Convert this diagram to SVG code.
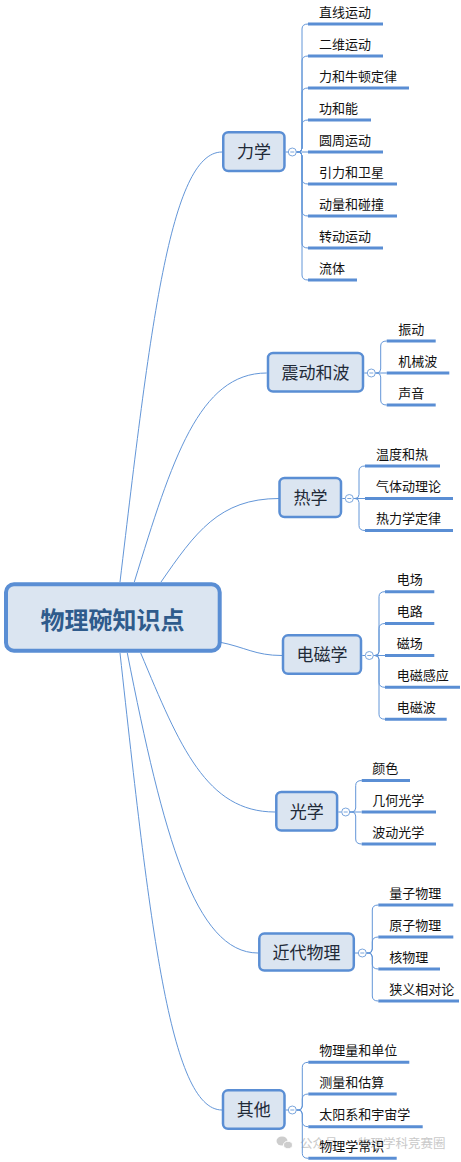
<svg xmlns="http://www.w3.org/2000/svg" width="461" height="1162" viewBox="0 0 461 1162">
<style>
.bg{fill:#ffffff}
.conn{fill:none;stroke:#6396d8;stroke-width:1}
.bar{fill:none;stroke:#5a8ed4;stroke-width:3}
.main rect{fill:#dbe5f1;stroke:#5a8ed4;stroke-width:2.5}
.main text{font-family:"Noto Sans CJK SC","Noto Sans",sans-serif;font-size:17px;fill:#1f2a38;text-anchor:middle}
.sub{font-family:"Noto Sans CJK SC","Noto Sans",sans-serif;font-size:13px;fill:#111111}
.col{fill:#ffffff;stroke:#7ba6dd;stroke-width:1}
.minus{stroke:#7ba6dd;stroke-width:1}
.wm{font-family:"Noto Sans CJK SC","Noto Sans",sans-serif;font-size:12.5px;fill:#c4c4c4}
</style>
<rect class="bg" x="0" y="0" width="461" height="1162"/>

<g id="watermark" opacity="0.9">
  <ellipse cx="282" cy="1141" rx="5.5" ry="4.5" fill="#c8c8c8"/>
  <ellipse cx="288" cy="1145" rx="4.5" ry="3.8" fill="#c8c8c8" stroke="#fff" stroke-width="1"/>
  <text class="wm" x="300" y="1148">公众号</text>
  <text class="wm" x="343" y="1148">·</text>
  <text class="wm" x="358" y="1148">物理学科竞赛圈</text>
</g>

<g id="connectors">
  <path class="conn" d="M120 582C150 330 170 152 222 152"/>
  <path class="conn" d="M134.3 582C172 459.5 199 373 266.7 373"/>
  <path class="conn" d="M161 582C195 533 219 498.5 279 498.5"/>
  <path class="conn" d="M219 642C245 647 255 655.5 282 655.5"/>
  <path class="conn" d="M140.7 653C179.6 746 206.4 812 275 812"/>
  <path class="conn" d="M127.3 653C163 835 195 953 258 953"/>
  <path class="conn" d="M120 653C149.5 920.7 169.8 1110 222 1110"/>

  <!-- 力学 -->
  <path class="conn" d="M285.7 152H288.3"/>
  <path class="conn" d="M296.3 152H298Q302 152 302 148V29Q302 24 308 24"/>
  <path class="conn" d="M296.3 152H298Q302 152 302 148V61Q302 56 308 56"/>
  <path class="conn" d="M296.3 152H298Q302 152 302 148V93Q302 88 308 88"/>
  <path class="conn" d="M296.3 152H298Q302 152 302 148V125Q302 120 308 120"/>
  <path class="conn" d="M296.3 152H308"/>
  <path class="conn" d="M296.3 152H298Q302 152 302 156V179Q302 184 308 184"/>
  <path class="conn" d="M296.3 152H298Q302 152 302 156V211Q302 216 308 216"/>
  <path class="conn" d="M296.3 152H298Q302 152 302 156V243Q302 248 308 248"/>
  <path class="conn" d="M296.3 152H298Q302 152 302 156V275Q302 280 308 280"/>

  <!-- 震动和波 -->
  <path class="conn" d="M364.3 373H367.3"/>
  <path class="conn" d="M375.3 373H376.7Q380.7 373 380.7 369V346Q380.7 341 386.7 341"/>
  <path class="conn" d="M375.3 373H386.7"/>
  <path class="conn" d="M375.3 373H376.7Q380.7 373 380.7 377V400Q380.7 405 386.7 405"/>

  <!-- 热学 -->
  <path class="conn" d="M342.3 498.5H345.3"/>
  <path class="conn" d="M353.3 498.5H355Q359 498.5 359 494.5V471Q359 466 365 466"/>
  <path class="conn" d="M353.3 498.5H365"/>
  <path class="conn" d="M353.3 498.5H355Q359 498.5 359 502.5V525.5Q359 530.5 365 530.5"/>

  <!-- 电磁学 -->
  <path class="conn" d="M362.3 655.5H365.3"/>
  <path class="conn" d="M373.3 655.5H375Q379 655.5 379 651.5V596.7Q379 591.7 385 591.7"/>
  <path class="conn" d="M373.3 655.5H375Q379 655.5 379 651.5V628.5Q379 623.5 385 623.5"/>
  <path class="conn" d="M373.3 655.5H385"/>
  <path class="conn" d="M373.3 655.5H375Q379 655.5 379 659.5V682.3Q379 687.3 385 687.3"/>
  <path class="conn" d="M373.3 655.5H375Q379 655.5 379 659.5V714.2Q379 719.2 385 719.2"/>

  <!-- 光学 -->
  <path class="conn" d="M338.3 812H341.7"/>
  <path class="conn" d="M349.7 812H351.7Q355.7 812 355.7 808V785.5Q355.7 780.5 361.7 780.5"/>
  <path class="conn" d="M349.7 812H361.7"/>
  <path class="conn" d="M349.7 812H351.7Q355.7 812 355.7 816V839Q355.7 844 361.7 844"/>

  <!-- 近代物理 -->
  <path class="conn" d="M355 953H358.3"/>
  <path class="conn" d="M366.3 953H368.3Q372.3 953 372.3 949V910Q372.3 905 378.3 905"/>
  <path class="conn" d="M366.3 953H368.3Q372.3 953 372.3 949V942Q372.3 937 378.3 937"/>
  <path class="conn" d="M366.3 953H368.3Q372.3 953 372.3 957V964Q372.3 969 378.3 969"/>
  <path class="conn" d="M366.3 953H368.3Q372.3 953 372.3 957V996Q372.3 1001 378.3 1001"/>

  <!-- 其他 -->
  <path class="conn" d="M285.7 1110H288.3"/>
  <path class="conn" d="M296.3 1110H298.3Q302.3 1110 302.3 1106V1067.3Q302.3 1062.3 308.3 1062.3"/>
  <path class="conn" d="M296.3 1110H298.3Q302.3 1110 302.3 1106V1099Q302.3 1094 308.3 1094"/>
  <path class="conn" d="M296.3 1110H298.3Q302.3 1110 302.3 1114V1121.7Q302.3 1126.7 308.3 1126.7"/>
  <path class="conn" d="M296.3 1110H298.3Q302.3 1110 302.3 1114V1153.3Q302.3 1158.3 308.3 1158.3"/>

  <!-- collapse circles -->
  <g>
    <circle class="col" cx="292.3" cy="152" r="4"/><path class="minus" d="M290.3 152H294.3"/>
    <circle class="col" cx="371.3" cy="373" r="4"/><path class="minus" d="M369.3 373H373.3"/>
    <circle class="col" cx="349.3" cy="498.5" r="4"/><path class="minus" d="M347.3 498.5H351.3"/>
    <circle class="col" cx="369.3" cy="655.5" r="4"/><path class="minus" d="M367.3 655.5H371.3"/>
    <circle class="col" cx="345.7" cy="812" r="4"/><path class="minus" d="M343.7 812H347.7"/>
    <circle class="col" cx="362.3" cy="953" r="4"/><path class="minus" d="M360.3 953H364.3"/>
    <circle class="col" cx="292.3" cy="1110" r="4"/><path class="minus" d="M290.3 1110H294.3"/>
  </g>
</g>

<g id="root">
  <rect x="6" y="584.3" width="213.7" height="66.4" rx="8" fill="#dbe5f1" stroke="#5a8ed4" stroke-width="4"/>
  <text x="112.5" y="629" font-family="'Noto Sans CJK SC','Noto Sans',sans-serif" font-size="24" font-weight="bold" fill="#2f5b8c" text-anchor="middle">物理碗知识点</text>
</g>

<g id="n-lixue" class="main"><rect x="223.25" y="132.25" width="61.2" height="38.8" rx="5"/><text x="254" y="158">力学</text></g>
<g id="n-zhendong" class="main"><rect x="268" y="353" width="95" height="38.5" rx="5"/><text x="315.5" y="378.5">震动和波</text></g>
<g id="n-rexue" class="main"><rect x="279.5" y="478" width="61.5" height="39" rx="5"/><text x="310.5" y="504">热学</text></g>
<g id="n-dianci" class="main"><rect x="283" y="635.3" width="78" height="38.5" rx="5"/><text x="322" y="661">电磁学</text></g>
<g id="n-guangxue" class="main"><rect x="276.3" y="792" width="60.8" height="38.5" rx="5"/><text x="306.7" y="817.5">光学</text></g>
<g id="n-jindai" class="main"><rect x="259.3" y="933.6" width="94.5" height="36.9" rx="5"/><text x="306.5" y="958.5">近代物理</text></g>
<g id="n-qita" class="main"><rect x="223" y="1090.3" width="61.5" height="38.5" rx="5"/><text x="253.7" y="1116">其他</text></g>

<g id="subs-lixue">
  <g id="s1"><path class="bar" d="M308 24H383"/><text class="sub" x="319" y="16.5">直线运动</text></g>
  <g id="s2"><path class="bar" d="M308 56H383"/><text class="sub" x="319" y="48.5">二维运动</text></g>
  <g id="s3"><path class="bar" d="M308 88H409"/><text class="sub" x="319" y="80.5">力和牛顿定律</text></g>
  <g id="s4"><path class="bar" d="M308 120H371"/><text class="sub" x="319" y="112.5">功和能</text></g>
  <g id="s5"><path class="bar" d="M308 152H383"/><text class="sub" x="319" y="144.5">圆周运动</text></g>
  <g id="s6"><path class="bar" d="M308 184H397"/><text class="sub" x="319" y="176.5">引力和卫星</text></g>
  <g id="s7"><path class="bar" d="M308 216H397"/><text class="sub" x="319" y="208.5">动量和碰撞</text></g>
  <g id="s8"><path class="bar" d="M308 248H383"/><text class="sub" x="319" y="240.5">转动运动</text></g>
  <g id="s9"><path class="bar" d="M308 280H357"/><text class="sub" x="319" y="272.5">流体</text></g>
</g>
<g id="subs-zhendong">
  <g id="s10"><path class="bar" d="M386.7 341H435.7"/><text class="sub" x="398.3" y="333.5">振动</text></g>
  <g id="s11"><path class="bar" d="M386.7 373H449.3"/><text class="sub" x="398.3" y="365.5">机械波</text></g>
  <g id="s12"><path class="bar" d="M386.7 405H435.7"/><text class="sub" x="398.3" y="397.5">声音</text></g>
</g>
<g id="subs-rexue">
  <g id="s13"><path class="bar" d="M365 466H440"/><text class="sub" x="376" y="458.5">温度和热</text></g>
  <g id="s14"><path class="bar" d="M365 498.5H453"/><text class="sub" x="376" y="491">气体动理论</text></g>
  <g id="s15"><path class="bar" d="M365 530.5H453"/><text class="sub" x="376" y="523">热力学定律</text></g>
</g>
<g id="subs-dianci">
  <g id="s16"><path class="bar" d="M385 591.7H434.3"/><text class="sub" x="396.7" y="584.2">电场</text></g>
  <g id="s17"><path class="bar" d="M385 623.5H434.3"/><text class="sub" x="396.7" y="616">电路</text></g>
  <g id="s18"><path class="bar" d="M385 655.5H434.3"/><text class="sub" x="396.7" y="648">磁场</text></g>
  <g id="s19"><path class="bar" d="M385 687.3H460"/><text class="sub" x="396.7" y="679.8">电磁感应</text></g>
  <g id="s20"><path class="bar" d="M385 719.2H446.7"/><text class="sub" x="396.7" y="711.7">电磁波</text></g>
</g>
<g id="subs-guangxue">
  <g id="s21"><path class="bar" d="M361.7 780.5H410"/><text class="sub" x="372.3" y="773">颜色</text></g>
  <g id="s22"><path class="bar" d="M361.7 812H436"/><text class="sub" x="372.3" y="804.5">几何光学</text></g>
  <g id="s23"><path class="bar" d="M361.7 844H436"/><text class="sub" x="372.3" y="836.5">波动光学</text></g>
</g>
<g id="subs-jindai">
  <g id="s24"><path class="bar" d="M378.3 905H453.3"/><text class="sub" x="389.3" y="897.5">量子物理</text></g>
  <g id="s25"><path class="bar" d="M378.3 937H453.3"/><text class="sub" x="389.3" y="929.5">原子物理</text></g>
  <g id="s26"><path class="bar" d="M378.3 969H440"/><text class="sub" x="389.3" y="961.5">核物理</text></g>
  <g id="s27"><path class="bar" d="M378.3 1001H459"/><text class="sub" x="389.3" y="993.5">狭义相对论</text></g>
</g>
<g id="subs-qita">
  <g id="s28"><path class="bar" d="M308.3 1062.3H409.3"/><text class="sub" x="319.3" y="1054.8">物理量和单位</text></g>
  <g id="s29"><path class="bar" d="M308.3 1094H396.7"/><text class="sub" x="319.3" y="1086.5">测量和估算</text></g>
  <g id="s30"><path class="bar" d="M308.3 1126.7H422.7"/><text class="sub" x="319.3" y="1119.2">太阳系和宇宙学</text></g>
  <g id="s31"><path class="bar" d="M308.3 1158.3H396.7"/><text class="sub" x="319.3" y="1150.8">物理学常识</text></g>
</g>
</svg>
